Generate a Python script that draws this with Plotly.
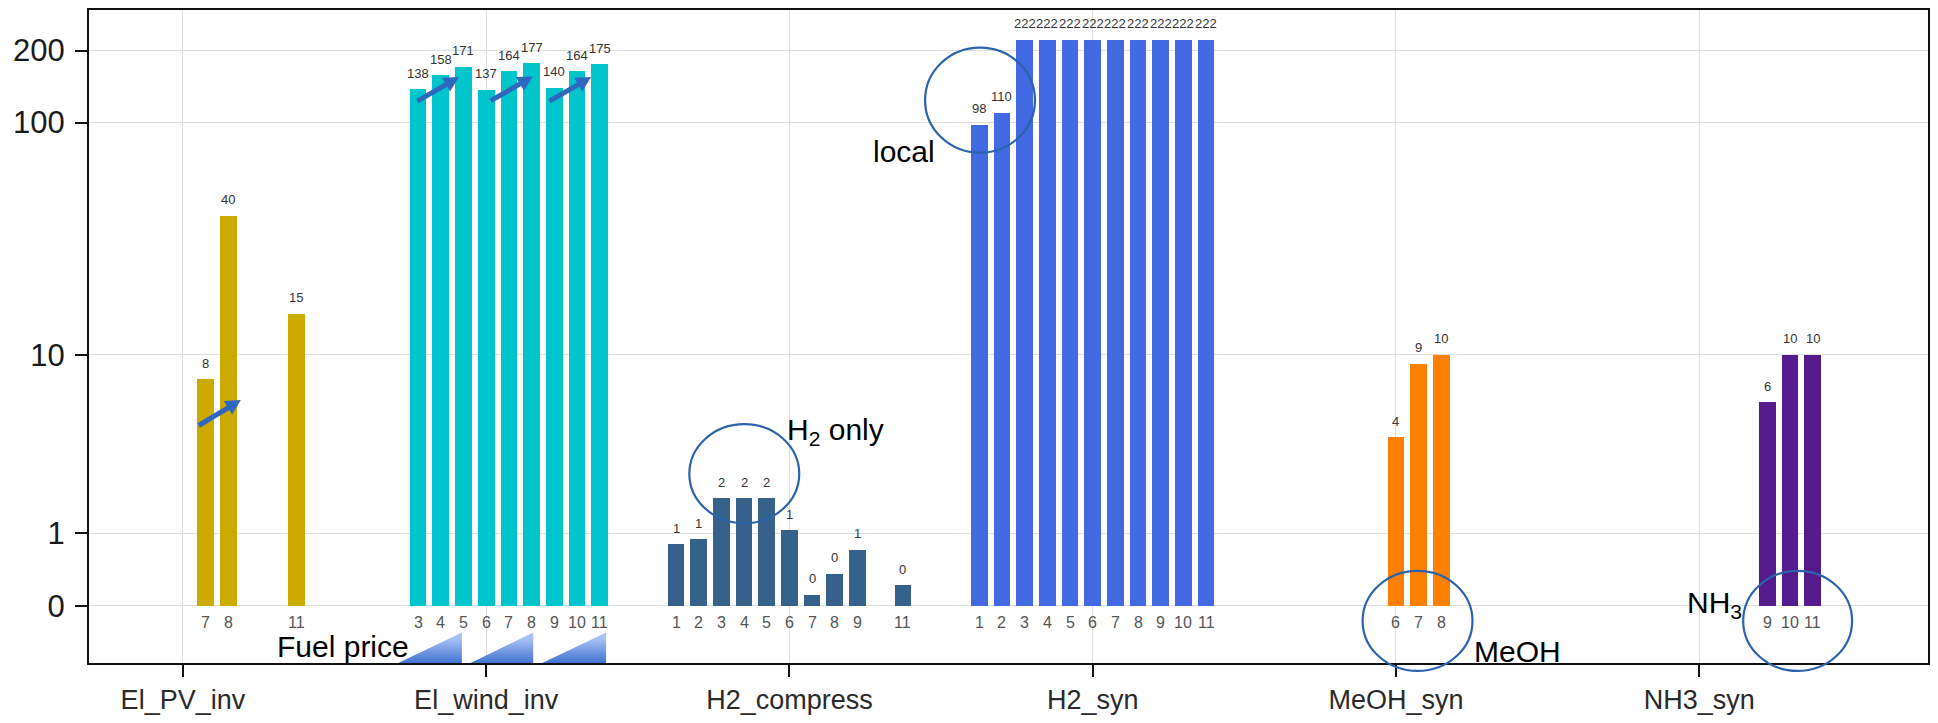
import numpy as np
import plotly.graph_objects as go

# ---- data -------------------------------------------------------------
categories = ["El_PV_inv", "El_wind_inv", "H2_compress", "H2_syn", "MeOH_syn", "NH3_syn"]

pv_scen = [7, 8, 11]
pv_vals = [7.7, 40.4, 15.3]

wind_scen = [3, 4, 5, 6, 7, 8, 9, 10, 11]
wind_vals = [138, 158, 171, 137, 164, 177, 140, 164, 175]

compress_scen = [1, 2, 3, 4, 5, 6, 7, 8, 9, 11]
compress_vals = [0.80, 0.89, 1.79, 1.79, 1.79, 1.06, 0.11, 0.36, 0.71, 0.22]

h2syn_scen = [1, 2, 3, 4, 5, 6, 7, 8, 9, 10, 11]
h2syn_vals = [98, 110, 222, 222, 222, 222, 222, 222, 222, 222, 222]

meoh_scen = [6, 7, 8]
meoh_vals = [4.0, 9.1, 10.0]

nh3_scen = [9, 10, 11]
nh3_vals = [5.98, 10.0, 10.0]

y_tick_values = [0, 1, 10, 100, 200]

# ---- styling ------------------------------------------------------------
bar_colors = ["#CDAA00", "#00C5CD", "#35618A", "#4169E1", "#FF7F00", "#551A8B"]
FONT = "Liberation Sans, Arial, Helvetica, sans-serif"
scenario_step = 0.0748   # horizontal offset between neighbouring scenarios
bar_width = 0.055
center_scenario = 6

# plot-area box in page pixels (used for the hand-drawn overlay marks)
PL, PR, PT, PB = 89, 1930, 9, 668
W, H = 1938, 723
cat_px0, cat_px_step = 183.0, 303.6     # pixel centre of first category, spacing
zero_py, y_px_per_unit = 610.3, 243.3


def tf(v):
    """log10(1 + v) scale used for the value axis."""
    return np.log10(1.0 + np.asarray(v, dtype=float))


def paper_x(px):
    return (px - PL) / (PR - PL)


def paper_y(py):
    return (PB - py) / (PB - PT)


def data_x(px):
    return (px - cat_px0) / cat_px_step


def data_y(py):
    return (zero_py - py) / y_px_per_unit


groups = [
    (pv_scen, pv_vals),
    (wind_scen, wind_vals),
    (compress_scen, compress_vals),
    (h2syn_scen, h2syn_vals),
    (meoh_scen, meoh_vals),
    (nh3_scen, nh3_vals),
]

fig = go.Figure()
annotations = []
shapes = []

for gi, ((scen, vals), color) in enumerate(zip(groups, bar_colors)):
    xs = [gi + (s - center_scenario) * scenario_step for s in scen]
    fig.add_trace(go.Bar(
        x=xs, y=tf(vals), width=bar_width,
        marker=dict(color=color, line=dict(width=0)),
        name=categories[gi], showlegend=False,
        hovertext=[f"{categories[gi]} #{s}: {v}" for s, v in zip(scen, vals)],
        hoverinfo="text",
    ))
    for x, s, v in zip(xs, scen, vals):
        # value label above each bar
        annotations.append(dict(
            x=x, y=float(tf(v)), xref="x", yref="y", text=str(int(round(v))),
            showarrow=False, yshift=16, font=dict(family=FONT, size=13, color="#333333"),
        ))
        # scenario number under each bar
        annotations.append(dict(
            x=x, y=0, xref="x", yref="y", text=str(s),
            showarrow=False, yshift=-17, font=dict(family=FONT, size=16, color="#555555"),
        ))

# ---- "fuel price" ramps (gradient triangles) ------------------------------
ramps = [(398.5, 462.3), (471.0, 533.7), (542.7, 606.7)]
ramp_top = 637.3
for x0, x1 in ramps:
    fig.add_trace(go.Scatter(
        x=[data_x(x0), data_x(x1), data_x(x1), data_x(x0)],
        y=[data_y(PB), data_y(PB), data_y(ramp_top), data_y(PB)],
        mode="lines", fill="toself",
        line=dict(width=0, color="rgba(0,0,0,0)"),
        fillgradient=dict(type="vertical",
                          colorscale=[[0, "#2C60C6"], [1, "#A9C2F5"]],
                          start=data_y(PB), stop=data_y(ramp_top)),
        hoverinfo="skip", showlegend=False,
    ))

# ---- arrows (shaft + filled head) ----------------------------------------
arrow_color = "#2F66BE"
arrows = [
    ((198.7, 428.3), (241.0, 402.7)),
    ((417.7, 101.0), (459.3, 76.7)),
    ((491.0, 100.7), (533.3, 76.0)),
    ((550.0, 101.0), (591.7, 76.7)),
]
head_len, head_half = 15.0, 8.0
for (tx, ty), (hx, hy) in arrows:
    dx, dy = hx - tx, hy - ty
    n = np.hypot(dx, dy)
    ux, uy = dx / n, dy / n
    bx, by = hx - ux * head_len, hy - uy * head_len
    nx, ny = -uy, ux
    shapes.append(dict(
        type="line", xref="paper", yref="paper",
        x0=paper_x(tx), y0=paper_y(ty),
        x1=paper_x(bx + ux * 2), y1=paper_y(by + uy * 2),
        line=dict(color=arrow_color, width=5), layer="above",
    ))
    pts = [(hx, hy), (bx + nx * head_half, by + ny * head_half),
           (bx - nx * head_half, by - ny * head_half)]
    path = "M " + " L ".join(f"{paper_x(px):.5f},{paper_y(py):.5f}" for px, py in pts) + " Z"
    shapes.append(dict(
        type="path", xref="paper", yref="paper", path=path,
        fillcolor=arrow_color, line=dict(width=0), layer="above",
    ))

# ---- callout texts ----------------------------------------------------------
callouts = [
    ("local", 904.5, 152),
    ("Fuel price", 343.5, 651),
    ("H<sub>2</sub> only", 836.5, 434),
    ("MeOH", 1519.5, 656),
    ("NH<sub>3</sub>", 1716.5, 609),
]
for txt, cx, cy in callouts:
    annotations.append(dict(
        x=paper_x(cx), y=paper_y(cy), xref="paper", yref="paper",
        text=txt, showarrow=False, xanchor="center", yanchor="middle",
        font=dict(family=FONT, size=30, color="#000000"),
    ))

# ---- circles ------------------------------------------------------------
circle_color = "#2B63AE"
circles = [
    (926, 47, 1036, 153),
    (690, 427, 800, 527),
    (1364, 575, 1474, 676),
    (1745, 575, 1854, 676),
]
for x0, y0, x1, y1 in circles:
    shapes.append(dict(
        type="circle", xref="paper", yref="paper",
        x0=paper_x(x0), x1=paper_x(x1), y0=paper_y(y1), y1=paper_y(y0),
        line=dict(color=circle_color, width=2.2), fillcolor="rgba(0,0,0,0)",
        layer="above",
    ))

# ---- axes ranges ----------------------------------------------------------
x_range = [data_x(PL), data_x(PR)]
y_range = [data_y(PB), data_y(PT)]

axis_common = dict(
    showline=True, linecolor="#111111", linewidth=2, mirror=True,
    ticks="outside", ticklen=12, tickwidth=2, tickcolor="#111111",
    showgrid=True, gridcolor="#DEDEDE", gridwidth=1.2, zeroline=False,
)

fig.update_layout(
    width=W, height=H, autosize=False,
    margin=dict(l=PL, r=W - PR, t=PT, b=H - PB),
    paper_bgcolor="white", plot_bgcolor="white",
    showlegend=False, bargap=0,
    font=dict(family=FONT, color="#222222"),
    xaxis=dict(
        range=x_range, tickmode="array", tickvals=list(range(len(categories))),
        ticktext=categories, tickfont=dict(family=FONT, size=27, color="#2a2a2a"),
        **axis_common,
    ),
    yaxis=dict(
        range=y_range, tickmode="array", tickvals=list(tf(y_tick_values)),
        ticktext=[str(v) for v in y_tick_values],
        tickfont=dict(family=FONT, size=31, color="#1a1a1a"),
        ticklabelstandoff=4,
        **axis_common,
    ),
    annotations=annotations,
    shapes=shapes,
)

fig.write_html("out.html")
